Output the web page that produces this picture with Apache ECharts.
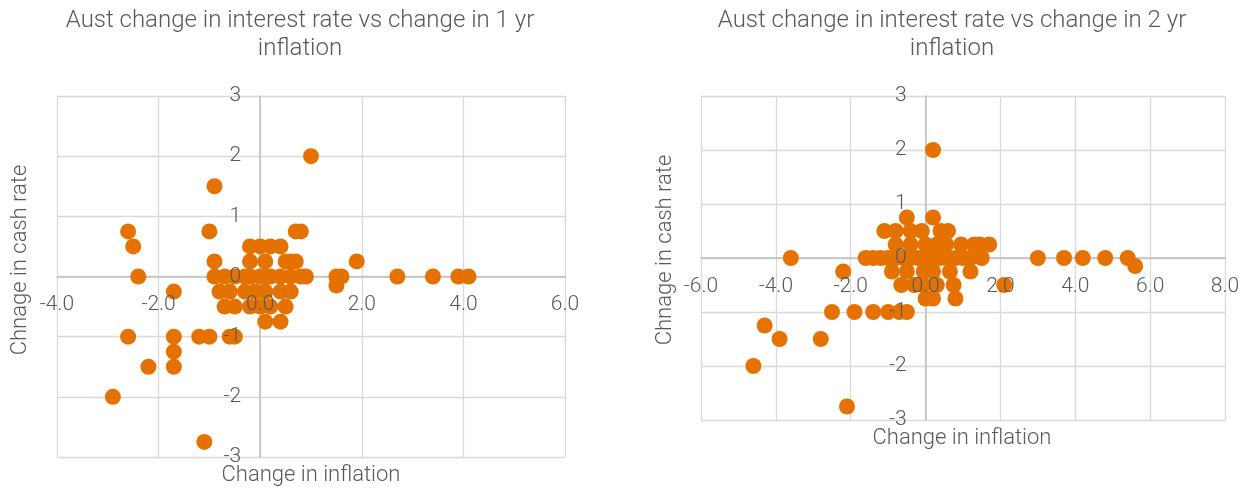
<!DOCTYPE html>
<html>
<head>
<meta charset="utf-8">
<script src="https://cdn.jsdelivr.net/npm/echarts@6/dist/echarts.min.js"></script>
<style>
  html, body { margin: 0; padding: 0; background: #fff; }
  #chart { width: 1247px; height: 488px; }
</style>
</head>
<body>
<div id="chart"></div>
<script>
// ---- Data ----
const title1 = ['Aust change in interest rate vs change in 1 yr', 'inflation'];
const title2 = ['Aust change in interest rate vs change in 2 yr', 'inflation'];
const xAxisName = 'Change in inflation';
const yAxisName = 'Chnage in cash rate';

// Chart 1: change in 1 yr inflation (x) vs change in cash rate (y)
const infl1 = [
  1.0, -0.9, -2.6, -2.5, -2.4, -1.7, -1.0, 0.7, 0.8,
  -0.2, 0.0, 0.2, 0.4,
  -0.9, -0.2, 0.1, 0.5, 0.6, 0.7, 1.9,
  -0.9, -0.7, -0.5, -0.3, -0.2, 0.0, 0.1, 0.2, 0.4, 0.6, 0.8, 0.9, 1.5, 1.6, 2.7, 3.4, 3.9, 4.1,
  1.5,
  -0.8, -0.6, -0.3, -0.1, 0.1, 0.4, 0.6,
  -0.7, -0.5, -0.2, 0.0, 0.2, 0.5,
  0.1, 0.4,
  -2.6, -1.7, -1.2, -1.0, -0.6, -0.5,
  -1.7, -2.2, -1.7, -2.9, -1.1
];
const cash1 = [
  2.0, 1.5, 0.75, 0.5, 0, -0.25, 0.75, 0.75, 0.75,
  0.5, 0.5, 0.5, 0.5,
  0.25, 0.25, 0.25, 0.25, 0.25, 0.25, 0.25,
  0, 0, 0, 0, 0, 0, 0, 0, 0, 0, 0, 0, 0, 0, 0, 0, 0, 0,
  -0.15,
  -0.25, -0.25, -0.25, -0.25, -0.25, -0.25, -0.25,
  -0.5, -0.5, -0.5, -0.5, -0.5, -0.5,
  -0.75, -0.75,
  -1, -1, -1, -1, -1, -1,
  -1.25, -1.5, -1.5, -2, -2.75
];

// Chart 2: change in 2 yr inflation (x) vs change in cash rate (y)
const infl2 = [
  0.2, -3.6, -2.2, -0.5, 0.2,
  -1.1, -0.8, -0.4, -0.1, 0.4, 0.6,
  -0.8, -0.4, 0.0, 0.3, 0.55, 0.95, 1.3, 1.45, 1.7,
  -1.6, -1.4, -1.2, -1.0, -0.8, -0.6, -0.4, -0.2, 0.0, 0.2, 0.4, 0.6, 0.8, 1.0, 1.2, 1.5, 3.0, 3.7, 4.2, 4.8, 5.4,
  5.6,
  -0.9, -0.5, -0.05, 0.2, 0.65, 1.2,
  -0.65, -0.3, -0.05, 0.3, 0.75, 2.1,
  0.0, 0.2, 0.8,
  -2.5, -1.9, -1.4, -1.0, -0.7, -0.5,
  -4.3, -3.9, -2.8, -4.6, -2.1
];
const cash2 = [
  2.0, 0, -0.25, 0.75, 0.75,
  0.5, 0.5, 0.5, 0.5, 0.5, 0.5,
  0.25, 0.25, 0.25, 0.25, 0.25, 0.25, 0.25, 0.25, 0.25,
  0, 0, 0, 0, 0, 0, 0, 0, 0, 0, 0, 0, 0, 0, 0, 0, 0, 0, 0, 0, 0,
  -0.15,
  -0.25, -0.25, -0.25, -0.25, -0.25, -0.25,
  -0.5, -0.5, -0.5, -0.5, -0.5, -0.5,
  -0.75, -0.75, -0.75,
  -1, -1, -1, -1, -1, -1,
  -1.25, -1.5, -1.5, -2, -2.75
];

// ---- Styling / layout ----
const FONT = 'Roboto';
const TXT = '#595959';
const ORANGE = '#E57200';
const GRID_C = '#D9D9D9';
const AXIS_C = '#BFBFBF';

const G1 = { left: 57, top: 96, width: 508, height: 361 };
const G2 = { left: 701, top: 96, width: 524, height: 324 };
const X1 = [-4, 6], X2 = [-6, 8], Y = [-3, 3];

function pairs(xs, ys) { return xs.map((x, i) => [x, ys[i]]); }

// offset that puts the axis (line + labels) on the other axis' zero
function xOffset(g) { return -g.height * (0 - Y[0]) / (Y[1] - Y[0]); }
function yOffset(g, xr) { return -g.width * (0 - xr[0]) / (xr[1] - xr[0]); }

// lines layer (below the points) or labels layer (above the points)
function xAxisCfg(idx, xr, g, labels) {
  return {
    type: 'value', gridIndex: idx, min: xr[0], max: xr[1], interval: 2,
    position: 'bottom', offset: xOffset(g), z: labels ? 10 : 0,
    axisLine: { show: !labels, onZero: false, lineStyle: { color: AXIS_C, width: 1.5 } },
    axisTick: { show: false },
    splitLine: { show: !labels, lineStyle: { color: GRID_C, width: 1.3 } },
    axisLabel: { show: labels, color: TXT, fontFamily: FONT, fontWeight: 300, fontSize: 21, margin: 18,
                 formatter: v => v.toFixed(1) }
  };
}
function yAxisCfg(idx, xr, g, labels) {
  return {
    type: 'value', gridIndex: idx, min: Y[0], max: Y[1], interval: 1,
    position: 'left', offset: yOffset(g, xr), z: labels ? 10 : 0,
    axisLine: { show: !labels, onZero: false, lineStyle: { color: AXIS_C, width: 1.5 } },
    axisTick: { show: false },
    splitLine: { show: !labels, lineStyle: { color: GRID_C, width: 1.3 } },
    axisLabel: { show: labels, color: TXT, fontFamily: FONT, fontWeight: 300, fontSize: 21, margin: 19,
                 formatter: v => String(v) }
  };
}
function txt(text, x, y, rot, size) {
  return {
    type: 'text', x: x, y: y, rotation: rot || 0, silent: true,
    style: { text: text, fill: TXT, font: '300 ' + (size || 22) + 'px ' + FONT,
             textAlign: 'center', textVerticalAlign: 'middle' }
  };
}

const chart = echarts.init(document.getElementById('chart'), null, { renderer: 'canvas' });
chart.setOption({
  animation: false,
  backgroundColor: '#fff',
  grid: [
    Object.assign({ containLabel: false }, G1),
    Object.assign({ containLabel: false }, G2)
  ],
  xAxis: [
    xAxisCfg(0, X1, G1, false), xAxisCfg(1, X2, G2, false),
    xAxisCfg(0, X1, G1, true), xAxisCfg(1, X2, G2, true)
  ],
  yAxis: [
    yAxisCfg(0, X1, G1, false), yAxisCfg(1, X2, G2, false),
    yAxisCfg(0, X1, G1, true), yAxisCfg(1, X2, G2, true)
  ],
  series: [
    { type: 'scatter', xAxisIndex: 0, yAxisIndex: 0, data: pairs(infl1, cash1), z: 2,
      symbolSize: 16, itemStyle: { color: ORANGE, opacity: 1 } },
    { type: 'scatter', xAxisIndex: 1, yAxisIndex: 1, data: pairs(infl2, cash2), z: 2,
      symbolSize: 16, itemStyle: { color: ORANGE, opacity: 1 } }
  ],
  graphic: [
    txt(title1[0], 300, 21, 0, 24),
    txt(title1[1], 300, 49, 0, 24),
    txt(title2[0], 952, 21, 0, 24),
    txt(title2[1], 952, 49, 0, 24),
    txt(xAxisName, 311, 475),
    txt(xAxisName, 962, 438),
    txt(yAxisName, 20, 260, Math.PI / 2),
    txt(yAxisName, 665, 250, Math.PI / 2)
  ]
});
</script>
</body>
</html>
